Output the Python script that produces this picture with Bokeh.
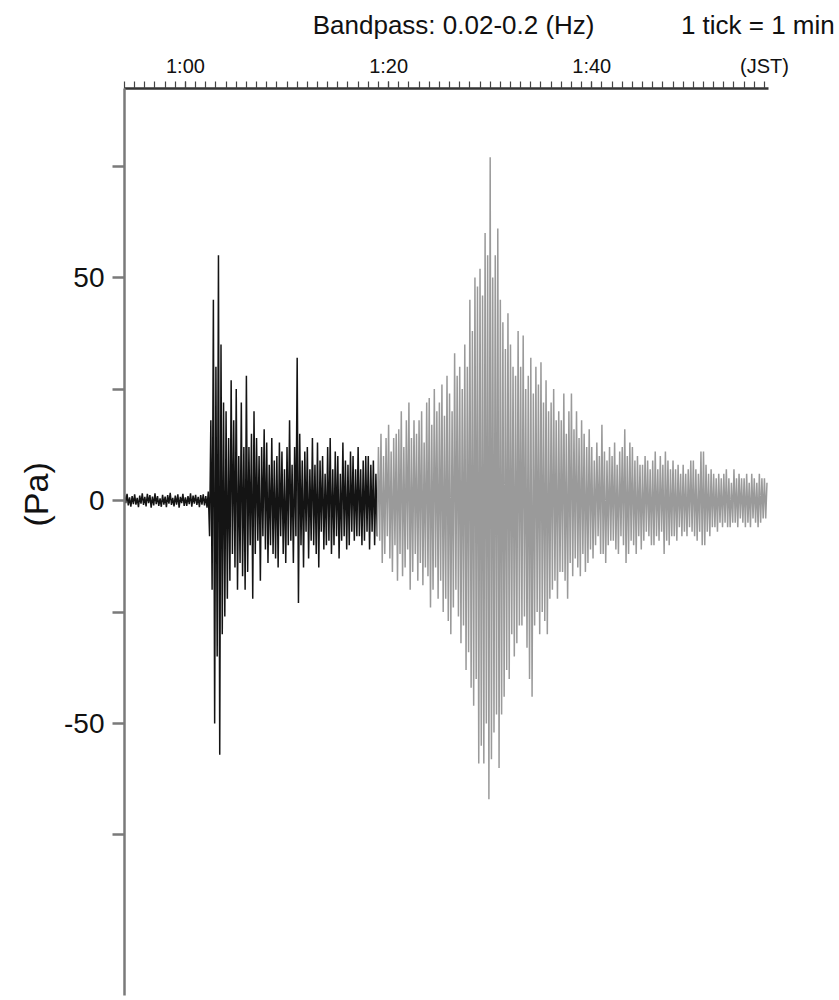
import numpy as np
from bokeh.plotting import figure
from bokeh.models import FixedTicker, LinearAxis, Range1d, Title
from bokeh.embed import file_html
from bokeh.resources import INLINE

# Pressure trace (Pa), sampled every 1/8 min from 0:54 JST (alternating peaks).
t_start_min = 54.0
dt_min = 0.125

# 0:54 - 1:18 (dark part of the trace), one row per minute
pa_early = [
    1.2, -0.6, 1.5, -1.1, 0.7, -1.4, 1.0, -0.8,
    1.4, -0.9, 0.6, -1.5, 1.1, -0.7, 1.6, -1.0,
    0.8, -1.3, 1.5, -0.6, 1.2, -1.6, 0.9, -1.1,
    1.6, -0.8, 1.0, -1.2, 0.5, -1.4, 1.3, -0.9,
    0.9, -1.5, 1.2, -0.7, 1.7, -1.0, 0.6, -1.3,
    1.1, -0.9, 1.4, -1.6, 0.8, -0.6, 1.5, -1.2,
    0.7, -1.2, 1.0, -0.8, 1.6, -1.4, 1.1, -0.7,
    1.3, -1.0, 0.8, -1.5, 1.2, -0.9, 1.4, -1.1,
    1.0, -1.6, 2.0, -8, 18, -20, 45, -50,
    30, -35, 55, -57, 35, -30, 22, -26,
    20, -22, 14, -18, 27, -12, 18, -15,
    25, -20, 10, -14, 22, -17, 12, -20,
    28, -16, 12, -10, 15, -22, 20, -12,
    14, -9, 10, -18, 12, -8, 16, -11,
    13, -14, 8, -10, 14, -12, 9, -13,
    10, -15, 13, -8, 11, -12, 7, -14,
    12, -10, 18, -9, 8, -14, 12, -8,
    32, -23, 15, -10, 9, -15, 11, -7,
    12, -13, 7, -9, 14, -10, 8, -12,
    13, -15, 9, -7, 10, -11, 6, -10,
    12, -9, 14, -12, 7, -10, 11, -8,
    10, -13, 6, -9, 13, -8, 9, -11,
    8, -10, 11, -7, 10, -9, 7, -8,
    12, -8, 7, -10, 9, -9, 10, -7,
    10, -11, 8, -7, 9, -10, 6, -8,
]

# 1:19 - 1:57 (grey part of the trace), one row per minute
pa_late = [
    12, -9, 15, -14, 10, -12, 14, -8,
    17, -13, 11, -16, 14, -10, 15, -18,
    16, -12, 20, -17, 12, -15, 18, -11,
    22, -20, 14, -16, 18, -12, 15, -18,
    18, -14, 20, -19, 13, -15, 22, -17,
    23, -24, 17, -20, 25, -15, 20, -22,
    22, -18, 26, -25, 19, -22, 28, -27,
    24, -30, 20, -24, 33, -20, 28, -26,
    30, -32, 25, -28, 35, -38, 30, -34,
    45, -42, 38, -46, 50, -40, 48, -59,
    52, -55, 46, -59, 60, -50, 55, -67,
    77, -58, 50, -52, 55, -48, 61, -60,
    45, -48, 40, -44, 34, -38, 42, -40,
    35, -30, 30, -35, 28, -32, 38, -28,
    30, -28, 37, -26, 25, -33, 28, -40,
    32, -44, 24, -28, 30, -25, 26, -30,
    31, -25, 22, -27, 27, -30, 20, -22,
    22, -20, 25, -18, 18, -22, 20, -16,
    18, -16, 24, -18, 15, -22, 20, -14,
    24, -17, 16, -13, 20, -15, 14, -17,
    18, -12, 15, -16, 12, -14, 16, -11,
    12, -13, 9, -10, 13, -8, 10, -12,
    17, -12, 11, -14, 9, -10, 12, -9,
    10, -9, 13, -11, 8, -12, 11, -8,
    12, -10, 16, -14, 10, -12, 13, -9,
    12, -10, 9, -12, 10, -8, 8, -11,
    8, -9, 10, -7, 9, -8, 7, -10,
    9, -10, 11, -8, 7, -9, 10, -7,
    8, -12, 11, -9, 9, -10, 7, -8,
    9, -8, 7, -9, 8, -6, 6, -8,
    8, -7, 6, -8, 7, -6, 9, -7,
    9, -8, 7, -9, 6, -7, 11, -10,
    11, -10, 8, -7, 6, -8, 7, -6,
    6, -6, 5, -7, 6, -5, 5, -6,
    6, -5, 7, -6, 5, -6, 4, -5,
    7, -5, 5, -6, 6, -4, 5, -5,
    5, -6, 6, -5, 4, -6, 6, -4,
    5, -5, 4, -6, 6, -5, 5, -4,
    5, -4, 4,
]

x_ticks = [60, 80, 100, 117]
x_tick_labels = ["1:00", "1:20", "1:40", "(JST)"]
y_ticks = [-50, 0, 50]
y_tick_labels = ["-50", "0", "50"]
y_minor_ticks = [-75, -25, 25, 75]
header_ticks = [86.4, 116.35]
header_texts = ["Bandpass: 0.02-0.2 (Hz)", "1 tick = 1 min"]

t_early = t_start_min + dt_min * np.arange(len(pa_early))
t_late = t_early[-1] + dt_min * np.arange(0, len(pa_late) + 1)
pa_late_joined = [pa_early[-1]] + pa_late

FONT = "Liberation Sans"

p = figure(width=839, height=1000,
           x_range=Range1d(54.0, 117.4), y_range=Range1d(-111.0, 92.4),
           x_axis_location="above", y_axis_location="left",
           output_backend="svg", toolbar_location=None,
           min_border_left=124, min_border_right=71,
           min_border_top=88, min_border_bottom=5)
p.outline_line_color = None
p.grid.visible = False
p.background_fill_color = "white"

p.line(t_early, pa_early, line_color="#141414", line_width=1.5)
p.line(t_late, pa_late_joined, line_color="#9a9a9a", line_width=1.5)

xa = p.xaxis[0]
xa.ticker = FixedTicker(ticks=x_ticks, minor_ticks=list(range(54, 117)))
xa.major_label_overrides = {t: s for t, s in zip(x_ticks, x_tick_labels)}
xa.major_tick_out = 7
xa.major_tick_in = 0
xa.minor_tick_out = 7
xa.minor_tick_in = 0
xa.major_tick_line_color = "#444444"
xa.minor_tick_line_color = "#444444"
xa.major_tick_line_width = 1.2
xa.minor_tick_line_width = 1.2
xa.axis_line_color = "#333333"
xa.axis_line_width = 2.5
xa.major_label_text_font = FONT
xa.major_label_text_font_size = "20px"
xa.major_label_text_color = "#111111"
xa.major_label_standoff = 5

# header row of text above the time axis
hdr = LinearAxis(ticker=FixedTicker(ticks=header_ticks, minor_ticks=[]))
hdr.major_label_overrides = {t: s for t, s in zip(header_ticks, header_texts)}
hdr.axis_line_color = None
hdr.major_tick_line_color = None
hdr.minor_tick_line_color = None
hdr.major_tick_out = 0
hdr.major_tick_in = 0
hdr.minor_tick_out = 0
hdr.minor_tick_in = 0
hdr.major_label_text_font = FONT
hdr.major_label_text_font_size = "26px"
hdr.major_label_text_color = "#111111"
hdr.major_label_standoff = 12
p.add_layout(hdr, "above")

ya = p.yaxis[0]
ya.ticker = FixedTicker(ticks=y_ticks, minor_ticks=y_minor_ticks)
ya.major_label_overrides = {t: s for t, s in zip(y_ticks, y_tick_labels)}
ya.major_tick_out = 12
ya.major_tick_in = 0
ya.minor_tick_out = 12
ya.minor_tick_in = 0
ya.major_tick_line_color = "#7a7a7a"
ya.minor_tick_line_color = "#7a7a7a"
ya.major_tick_line_width = 2.5
ya.minor_tick_line_width = 2.5
ya.axis_line_color = "#7a7a7a"
ya.axis_line_width = 2.5
ya.major_label_text_font = FONT
ya.major_label_text_font_size = "28px"
ya.major_label_text_color = "#111111"
ya.major_label_standoff = 8

p.add_layout(Title(text="(Pa)", align="left", offset=469,
                   text_font=FONT, text_font_size="34px", text_font_style="normal",
                   text_color="#111111", standoff=13), "left")

open("out.html", "w").write(file_html(p, INLINE))
